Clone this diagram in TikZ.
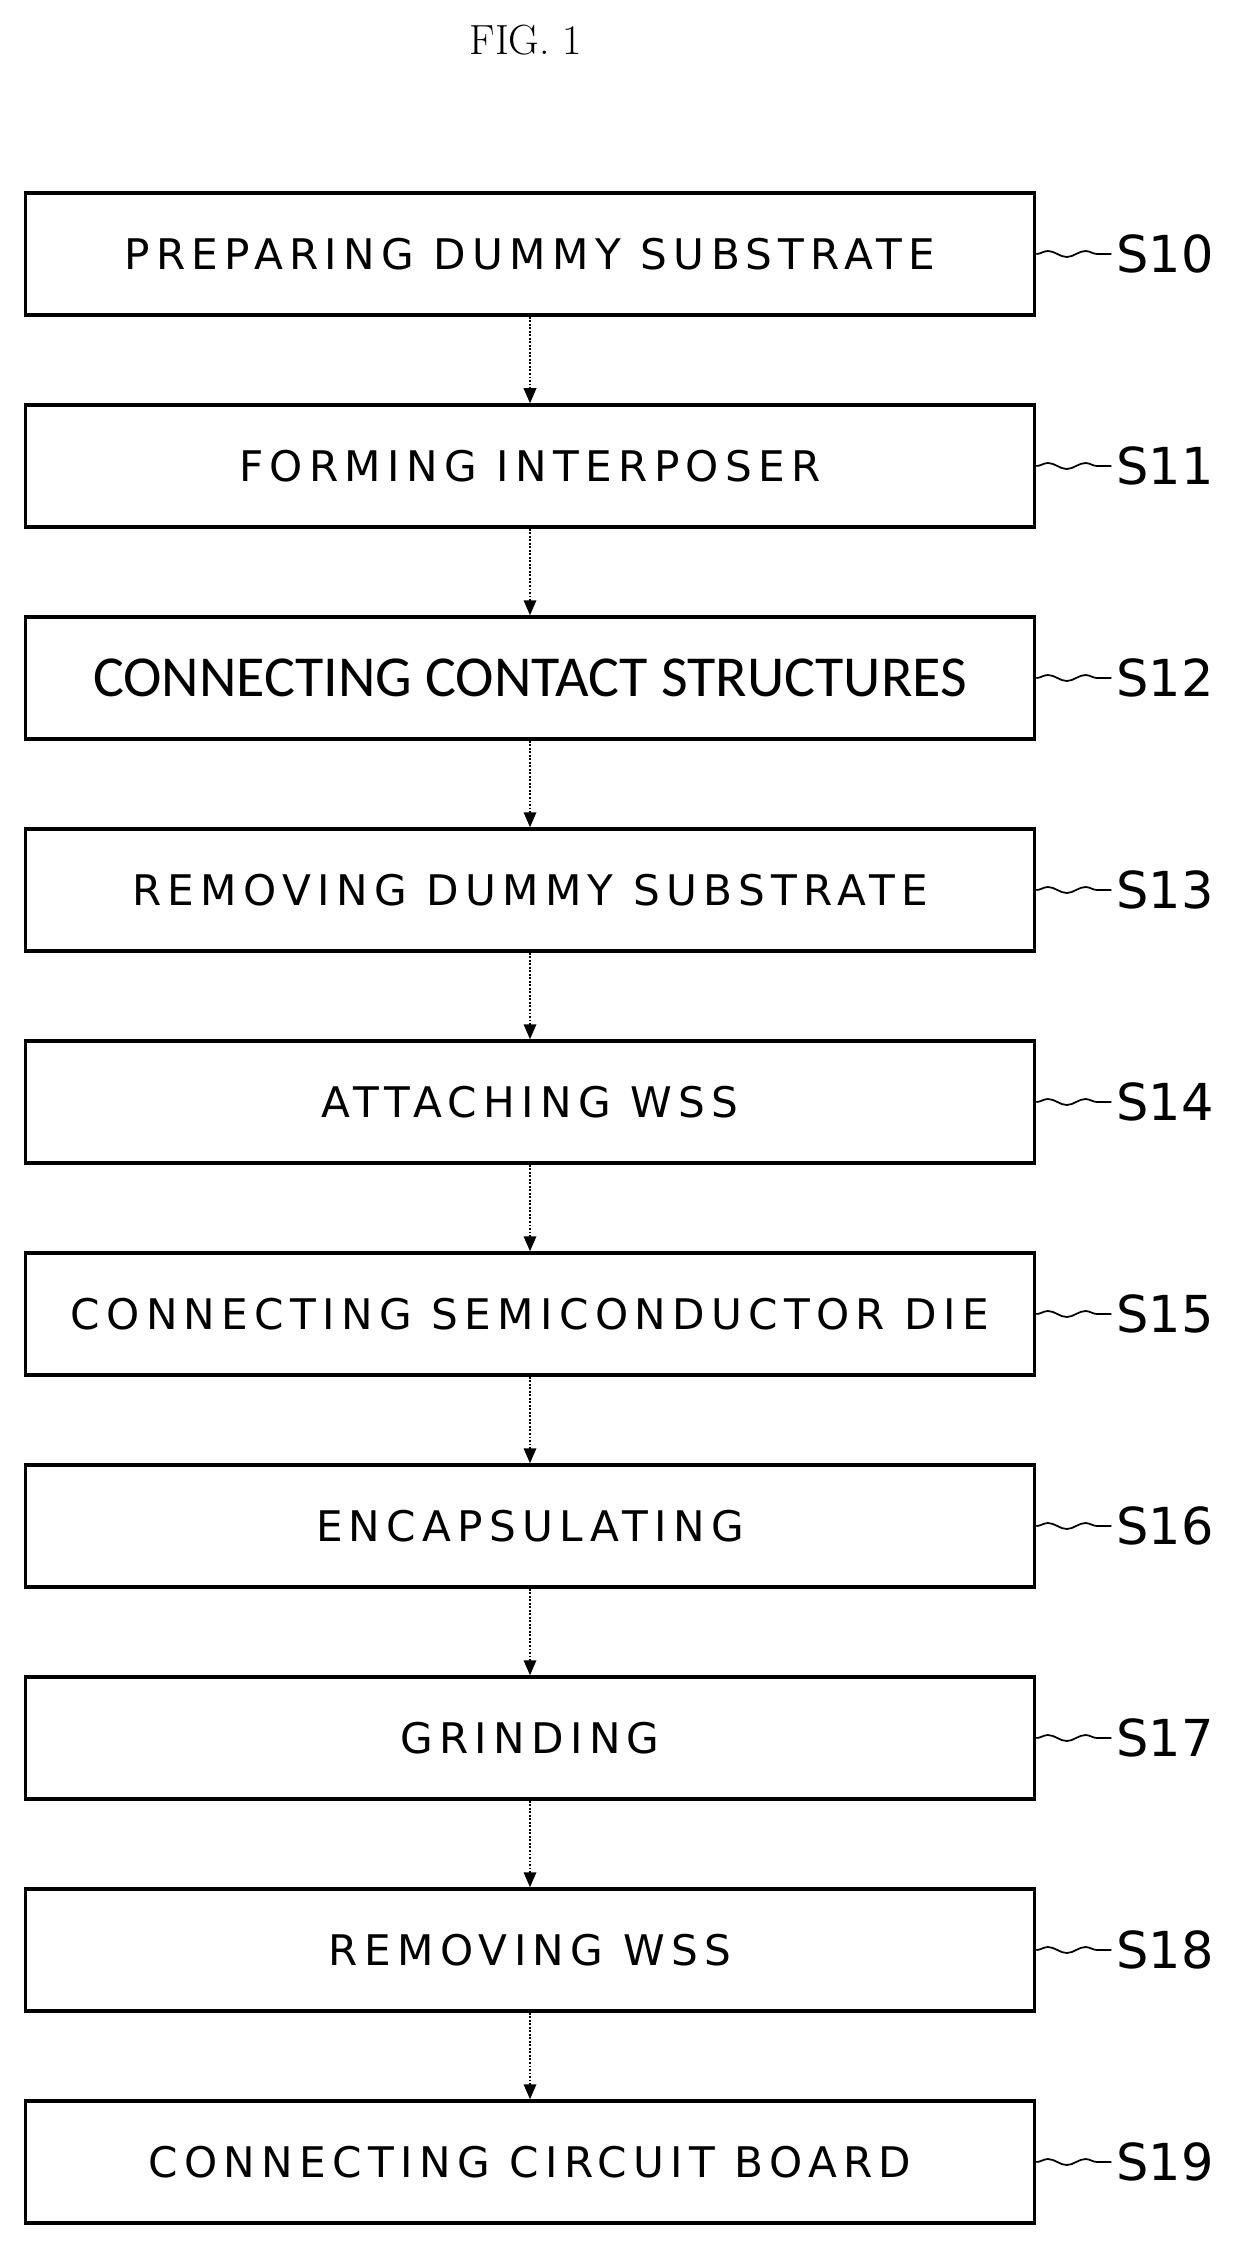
\documentclass[tikz,border=0pt]{standalone}
\usepackage{fontspec}
\setsansfont{DejaVu Sans}
\newfontfamily\plainfont{Carlito}
\usetikzlibrary{decorations.pathmorphing,arrows.meta}
\tikzset{stepbox/.style={rectangle,draw=black,line width=2pt,minimum width=20.18cm,minimum height=2.44cm,inner sep=0pt,anchor=center,
    font=\sffamily\fontsize{24}{27}\selectfont\addfontfeature{LetterSpace=15}},
  flow/.style={densely dotted,line width=1pt,-{Triangle[length=0.3cm,width=0.25cm]}},
  tag/.style={anchor=west,inner sep=0pt,font=\sffamily\fontsize{29}{32}\selectfont},
  wave/.style={line width=1pt,decorate,decoration={snake,amplitude=0.06cm,segment length=0.75cm}}}
\begin{document}
\begin{tikzpicture}
  \useasboundingbox (0,0) rectangle (24.76,-45);
  \node[font=\rmfamily\fontsize{24}{26}\selectfont] (title) at (10.52,-0.8) {FIG. 1};

  \foreach \i/\txt in {0/PREPARING DUMMY SUBSTRATE,1/FORMING INTERPOSER,2/{},3/REMOVING DUMMY SUBSTRATE,4/ATTACHING WSS,
      5/CONNECTING SEMICONDUCTOR DIE,6/ENCAPSULATING,7/GRINDING,8/REMOVING WSS,9/CONNECTING CIRCUIT BOARD}
  {
    \node[stepbox] (s\i) at (10.6,{-5.08-4.24*\i}) {\txt};
    \coordinate (w\i) at ([xshift=1.5cm]s\i.east);
    \draw[wave] (s\i.east) -- (w\i);
    \node[tag] (t\i) at ([xshift=0.1cm]w\i) {S1\i};
  }
  \node[font=\plainfont\fontsize{33}{35}\selectfont] (c2) at (s2) {CONNECTING CONTACT STRUCTURES};

  \foreach \i [evaluate=\i as \j using int(\i+1)] in {0,...,8}
    \draw[flow] (s\i.south) -- (s\j.north);
\end{tikzpicture}
\end{document}
